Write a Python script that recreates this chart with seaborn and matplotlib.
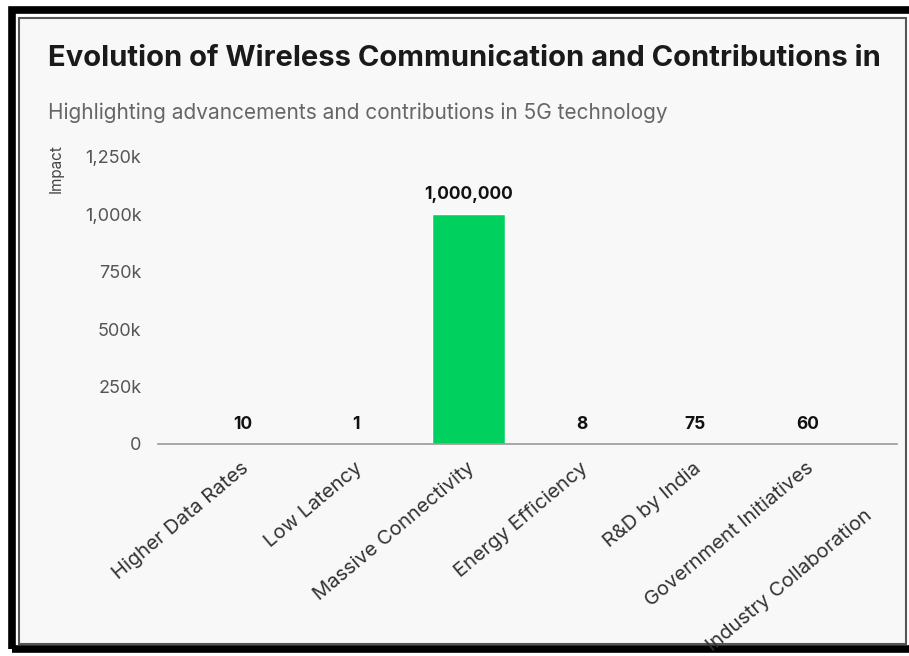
import numpy as np
import pandas as pd
import matplotlib.pyplot as plt
import seaborn as sns
from matplotlib.patches import Rectangle
import matplotlib.transforms as mtrans

categories = ["Higher Data Rates", "Low Latency", "Massive Connectivity",
              "Energy Efficiency", "R&D by India", "Government Initiatives",
              "Industry Collaboration"]
# last value is cut off in the source picture, so it stays unknown
impact = [10, 1, 1000000, 8, 75, 60, np.nan]
yticks = [0, 250000, 500000, 750000, 1000000, 1250000]
ytick_labels = ["0", "250k", "500k", "750k", "1,000k", "1,250k"]

df = pd.DataFrame({"category": categories, "impact": impact})

sns.set_theme(style="white")
plt.rcParams['font.family'] = ['Inter', 'DejaVu Sans']

W, H = 909, 656
fig = plt.figure(figsize=(W / 100, H / 100), dpi=100)
fig.patch.set_facecolor("white")

def px(x, y):
    return x / W, 1 - y / H

# screenshot frame
x0, y0 = px(12, 10)
x1, y1 = px(915, 649)
fig.patches.append(Rectangle((x0, y1), x1 - x0, y0 - y1, transform=fig.transFigure,
                             facecolor="none", edgecolor="black", linewidth=5.5, zorder=-2))
x0, y0 = px(19, 18)
x1, y1 = px(906, 644)
fig.patches.append(Rectangle((x0, y1), x1 - x0, y0 - y1, transform=fig.transFigure,
                             facecolor="#f8f8f8", edgecolor="#555555", linewidth=1.5, zorder=-1))

ax = fig.add_axes([158 / W, (H - 444) / H, (897 - 158) / W, (444 - 157) / H])
ax.set_facecolor("none")

sns.barplot(data=df, x="category", y="impact", color="#00d15e", width=0.65,
            saturation=1, ax=ax)

ax.set_xlim(-0.75, 5.79)
ax.set_ylim(0, 1250000)
ax.set_yticks(yticks)
ax.set_yticklabels(ytick_labels)

for s in ["top", "right", "left"]:
    ax.spines[s].set_visible(False)
ax.spines["bottom"].set_color("#9a9a9a")
ax.spines["bottom"].set_linewidth(1.2)

ax.tick_params(axis="y", length=0, pad=12, labelsize=13, labelcolor="#555555")
ax.tick_params(axis="x", length=0, pad=16, labelsize=14.5, labelcolor="#333333")

for i, v in enumerate(impact):
    if np.isfinite(v):
        ax.annotate(f"{v:,.0f}", xy=(i, v), xytext=(0, 8), textcoords="offset points",
                    ha="center", va="bottom", fontsize=12.5, fontweight="bold",
                    color="#111111")

offset = mtrans.ScaledTranslation(4 / 100, 0, fig.dpi_scale_trans)
for lab in ax.get_xticklabels():
    lab.set_rotation(40)
    lab.set_ha("right")
    lab.set_va("center")
    lab.set_rotation_mode("anchor")
    lab.set_transform(lab.get_transform() + offset)

# last category label is pushed back inside the frame
ax.annotate(categories[-1], xy=(6, 0), xycoords="data", xytext=(-37, -50),
            textcoords="offset points", rotation=40, ha="right", va="center",
            rotation_mode="anchor", fontsize=14.5, color="#333333",
            annotation_clip=False)

ax.set_xlabel("")
ax.set_ylabel("Impact", fontsize=11, color="#444444")
ax.yaxis.set_label_coords(-0.128, 0.958)

fig.text(48 / W, 1 - 58 / H, "Evolution of Wireless Communication and Contributions in",
         fontsize=21, fontweight="bold", color="#1a1a1a", va="center", ha="left")
fig.text(48 / W, 1 - 113 / H, "Highlighting advancements and contributions in 5G technology",
         fontsize=15, color="#666666", va="center", ha="left")

fig.savefig("out.png", dpi=100)
